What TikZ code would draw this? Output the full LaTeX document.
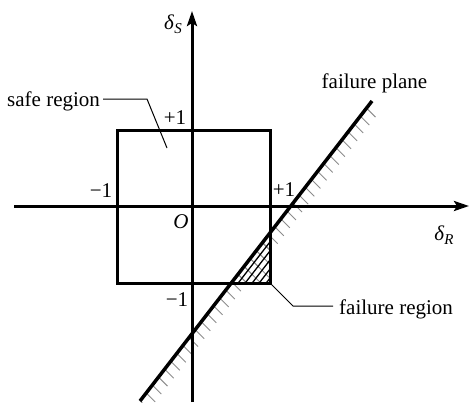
\documentclass[tikz,border=0pt]{standalone}
\usepackage{fontspec}
\setmainfont{Liberation Serif}
\usetikzlibrary{arrows.meta}
\tikzset{
  axis/.style={line width=3pt,-{Stealth[length=15pt,width=10pt,inset=3pt]}},
  boxline/.style={line width=3pt},
  plane/.style={line width=3.5pt,line cap=butt},
  tick/.style={draw=black!45,line width=0.9pt},
  leader/.style={line width=1pt},
  lbl/.style={inner sep=0pt,font=\fontsize{21}{25}\selectfont},
}
\newcommand{\dS}{\textit{δ}\raisebox{-0.45ex}{\fontsize{15}{15}\selectfont\textit{S}}}
\newcommand{\dR}{\textit{δ}\raisebox{-0.45ex}{\fontsize{15}{15}\selectfont\textit{R}}}
\begin{document}
\begin{tikzpicture}[x=1pt,y=-1pt]
\useasboundingbox (0,0) rectangle (470,402);
% coordinates
\coordinate (xl) at (14,206);
\coordinate (xr) at (469,206);
\coordinate (yb) at (192,402);
\coordinate (yt) at (192,11);
\coordinate (b1) at (117,130);
\coordinate (b2) at (270,283);
\coordinate (P0) at (372,101);
\coordinate (P1) at (140,401);
\coordinate (T1) at (270,232.9);
\coordinate (T2) at (270,283);
\coordinate (T3) at (231.2,283);
% hatch ticks on failure plane
\foreach \s in {9,19,...,379} {
  \draw[tick] ({372-0.6118*\s},{101+0.7911*\s}) -- ++(9,9);
}
% failure region hatch
\begin{scope}
  \clip (T1) -- (T2) -- (T3) -- cycle;
  \foreach \s in {9,19,...,379} {
    \draw[tick] ({372-0.6118*\s},{101+0.7911*\s}) -- ++(60,60);
  }
  \foreach \d in {7,14,...,49} {
    \draw[line width=1.3pt] ({231.2+\d},283) -- ++(46.4,-60);
  }
\end{scope}
% box
\draw[boxline] (b1) rectangle (b2);
% axes
\draw[axis] (xl) -- (xr);
\draw[axis] (yb) -- (yt);
% failure plane
\draw[plane] (P0) -- (P1);
% labels
\node[lbl] (ds) at (173,24) {\dS};
\node[lbl] (dr) at (444,235) {\dR};
\node[lbl] (pt) at (175,118) {+1};
\node[lbl] (mt) at (101,191) {−1};
\node[lbl] (o) at (181,222) {\textit{O}};
\node[lbl] (mb) at (177,300) {−1};
\node[lbl] (pr) at (284,190) {+1};
\node[lbl,anchor=west] (safe) at (7,101) {safe region};
\node[lbl] (fp) at (374.5,83) {failure plane};
\node[lbl,anchor=west] (fr) at (339,309) {failure region};
% leaders
\coordinate (s1) at (103,99);
\coordinate (s2) at (147,99);
\coordinate (s3) at (167,148);
\draw[leader] (s1) -- (s2) -- (s3);
\coordinate (f1) at (293,306);
\coordinate (f2) at (333,306);
\draw[leader] (b2) -- (f1) -- (f2);
\end{tikzpicture}
\end{document}
